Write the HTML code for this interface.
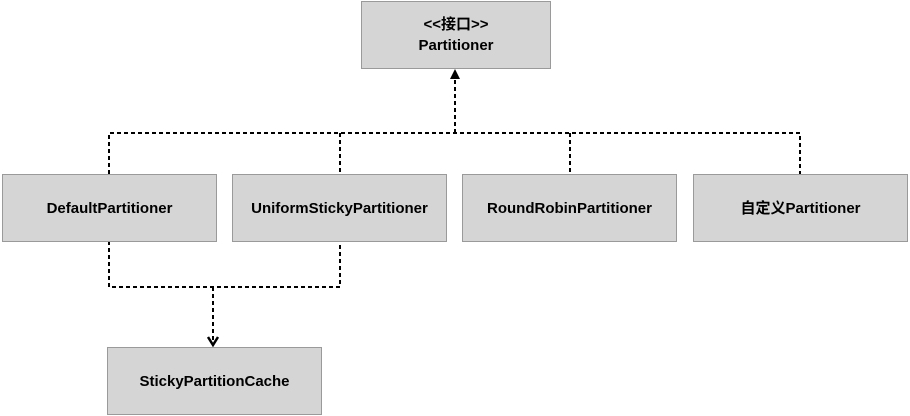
<!DOCTYPE html>
<html><head><meta charset="utf-8"><style>
body{margin:0;width:910px;height:416px;background:#fff;overflow:hidden;position:relative;font-family:"Liberation Sans","Noto Sans CJK SC",sans-serif;}
.b{position:absolute;background:#d5d5d5;border:1px solid #9a9a9a;box-sizing:border-box;display:flex;align-items:center;justify-content:center;text-align:center;font-weight:bold;font-size:15px;color:#000;line-height:21px;}
svg{position:absolute;left:0;top:0;}
</style></head><body>
<svg width="910" height="416">
<g stroke="#000" stroke-width="2" stroke-dasharray="4,3" fill="none">
<path d="M109 174V133H800V174"/>
<path d="M340 133V174"/>
<path d="M570 133V174"/>
<path d="M455 133V74"/>
<path d="M109 241V287H340V241"/>
<path d="M213 287V343"/>
</g>
<path d="M450 79L455 69L460 79Z" fill="#000"/>
<path d="M208 337L213 345L218 337" stroke="#000" stroke-width="2.5" fill="none"/>
</svg>
<div class="b" style="left:361px;top:1px;width:190px;height:68px">&lt;&lt;接口&gt;&gt;<br>Partitioner</div>
<div class="b" style="left:2px;top:174px;width:215px;height:68px">DefaultPartitioner</div>
<div class="b" style="left:232px;top:174px;width:215px;height:68px">UniformStickyPartitioner</div>
<div class="b" style="left:462px;top:174px;width:215px;height:68px">RoundRobinPartitioner</div>
<div class="b" style="left:693px;top:174px;width:215px;height:68px">自定义Partitioner</div>
<div class="b" style="left:107px;top:347px;width:215px;height:68px">StickyPartitionCache</div>
</body></html>
